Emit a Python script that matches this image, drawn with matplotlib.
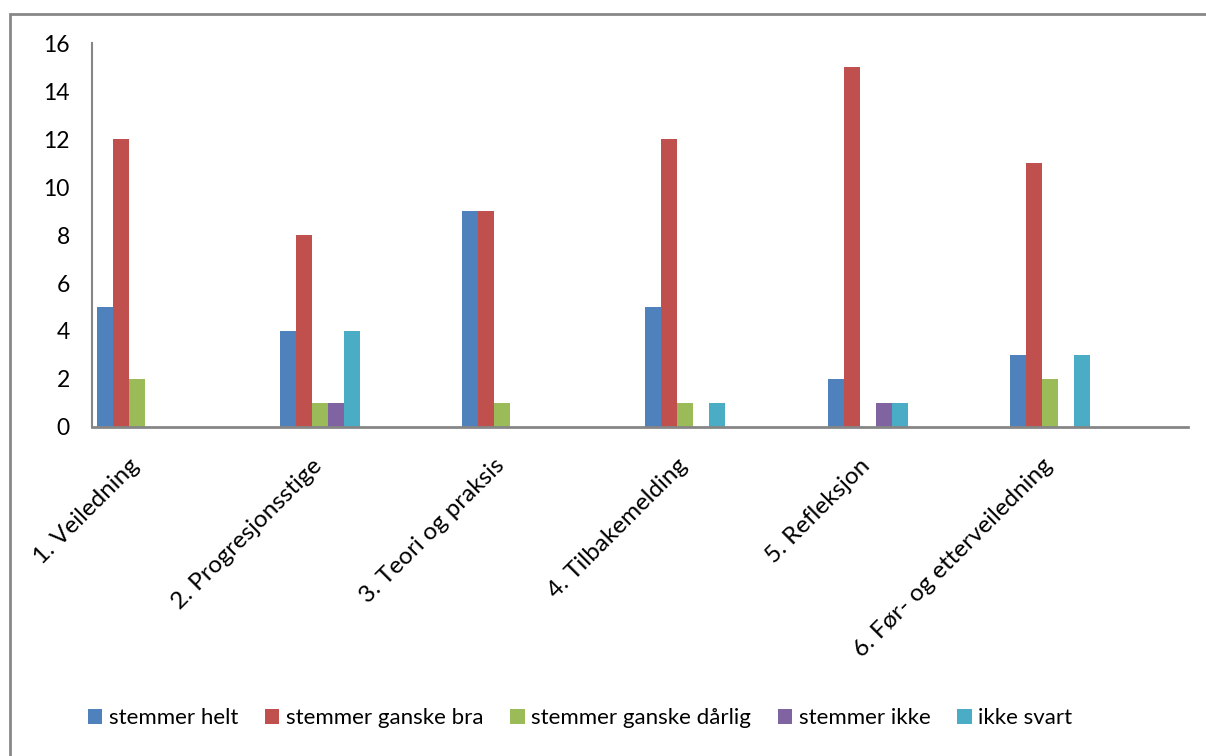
import matplotlib.pyplot as plt
import numpy as np
from matplotlib.patches import Rectangle

plt.rcParams['font.family'] = ['Lato', 'DejaVu Sans']

categories = ['1. Veiledning', '2. Progresjonsstige', '3. Teori og praksis',
              '4. Tilbakemelding', '5. Refleksjon', '6. Før- og etterveiledning']
series = ['stemmer helt', 'stemmer ganske bra', 'stemmer ganske dårlig',
          'stemmer ikke', 'ikke svart']
helt = [5, 4, 9, 5, 2, 3]
bra = [12, 8, 9, 12, 15, 11]
darlig = [2, 1, 1, 1, 0, 2]
ikke = [0, 1, 0, 0, 1, 0]
svart = [0, 4, 0, 1, 1, 3]
colors = ['#4F81BD', '#C0504D', '#9BBB59', '#8064A2', '#4BACC6']


def draw():
    fig = plt.figure(figsize=(12.06, 7.56), dpi=100)
    # outer chart border
    fig.patches.append(Rectangle((10 / 1206, -0.1), 1.2, 1 - 14 / 756 + 0.1,
                                 transform=fig.transFigure, fill=False,
                                 edgecolor='#888888', linewidth=2))
    ax = fig.add_axes([92 / 1206, 1 - 427 / 756, (1188 - 92) / 1206, (427 - 43) / 756])

    x = np.arange(len(categories))
    w = 0.0877
    data = [helt, bra, darlig, ikke, svart]
    handles = []
    for i, (vals, c) in enumerate(zip(data, colors)):
        b = ax.bar(x + 0.027 + i * w, vals, width=w, align='edge', color=c,
                   edgecolor='none', label=series[i])
        handles.append(b)

    ax.set_xlim(0, 6)
    ax.set_ylim(0, 16)
    ax.set_yticks(range(0, 17, 2))
    ax.set_xticks(x + 0.28)
    ax.set_xticklabels(categories, rotation=45, ha='right', fontsize=17.5)
    ax.tick_params(axis='y', length=0, pad=16, labelsize=16.5)
    ax.tick_params(axis='x', length=0, pad=20)
    for s in ['top', 'right']:
        ax.spines[s].set_visible(False)
    ax.spines['left'].set_color('#868686')
    ax.spines['left'].set_linewidth(1.5)
    ax.spines['bottom'].set_color('#868686')
    ax.spines['bottom'].set_linewidth(2)

    fig.legend(handles=handles, loc='center', bbox_to_anchor=(0.481, 0.05),
               ncol=5, frameon=False, fontsize=16, handlelength=0.65,
               handleheight=0.65, handletextpad=0.3, columnspacing=1.2)
    fig.savefig('out.png', dpi=100)


if __name__ == '__main__':
    draw()
